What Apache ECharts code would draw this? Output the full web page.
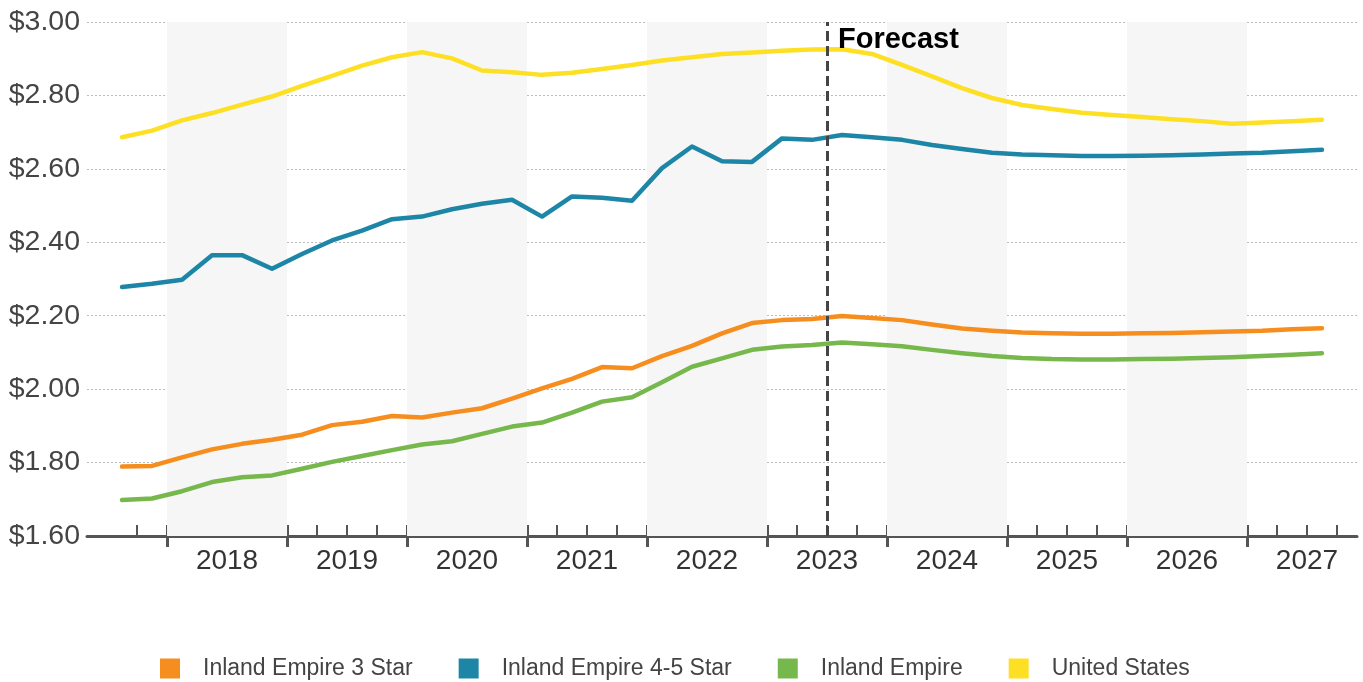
<!DOCTYPE html>
<html>
<head>
<meta charset="utf-8">
<style>
html,body{margin:0;padding:0;background:#fff;}
#chart{width:1363px;height:682px;}
</style>
<script src="https://cdn.jsdelivr.net/npm/echarts/dist/echarts.min.js"></script>
</head>
<body>
<div id="chart"></div>
<script>
const quarters = ['2017 Q3','2017 Q4',
 '2018 Q1','2018 Q2','2018 Q3','2018 Q4',
 '2019 Q1','2019 Q2','2019 Q3','2019 Q4',
 '2020 Q1','2020 Q2','2020 Q3','2020 Q4',
 '2021 Q1','2021 Q2','2021 Q3','2021 Q4',
 '2022 Q1','2022 Q2','2022 Q3','2022 Q4',
 '2023 Q1','2023 Q2','2023 Q3','2023 Q4',
 '2024 Q1','2024 Q2','2024 Q3','2024 Q4',
 '2025 Q1','2025 Q2','2025 Q3','2025 Q4',
 '2026 Q1','2026 Q2','2026 Q3','2026 Q4',
 '2027 Q1','2027 Q2','2027 Q3'];

const ie3Star = [1.789,1.791,1.814,1.836,1.851,1.862,1.876,1.902,1.911,1.927,1.923,1.936,1.948,1.974,2.002,2.028,2.060,2.057,2.090,2.118,2.152,2.180,2.188,2.191,2.199,2.194,2.188,2.176,2.165,2.159,2.154,2.152,2.151,2.151,2.152,2.153,2.155,2.157,2.159,2.163,2.166];
const ie45Star = [2.278,2.287,2.298,2.365,2.365,2.328,2.368,2.405,2.432,2.463,2.470,2.490,2.505,2.516,2.470,2.525,2.521,2.513,2.602,2.661,2.621,2.619,2.683,2.679,2.692,2.686,2.679,2.665,2.654,2.644,2.639,2.637,2.635,2.635,2.636,2.637,2.639,2.642,2.644,2.648,2.652];
const inlandEmpire = [1.698,1.702,1.722,1.747,1.760,1.765,1.783,1.802,1.818,1.834,1.849,1.858,1.878,1.898,1.909,1.936,1.966,1.978,2.019,2.061,2.084,2.107,2.116,2.120,2.127,2.122,2.117,2.107,2.098,2.090,2.085,2.082,2.081,2.081,2.082,2.083,2.085,2.087,2.090,2.094,2.098];
const unitedStates = [2.686,2.704,2.732,2.752,2.775,2.797,2.826,2.853,2.881,2.904,2.918,2.901,2.868,2.863,2.856,2.862,2.872,2.883,2.895,2.904,2.913,2.917,2.922,2.925,2.926,2.913,2.883,2.852,2.820,2.793,2.774,2.763,2.753,2.747,2.741,2.735,2.730,2.723,2.726,2.730,2.734];

const yearLabels = ['2018','2019','2020','2021','2022','2023','2024','2025','2026','2027'];
const shadedYears = [2018,2020,2022,2024,2026];
const forecastStart = '2023 Q3';
const seriesNames = ['Inland Empire 3 Star','Inland Empire 4-5 Star','Inland Empire','United States'];
const yTicks = [1.6,1.8,2.0,2.2,2.4,2.6,2.8,3.0];

function qPos(label){ const p = label.split(' Q'); return +p[0] + (+p[1]-1)/4 + 0.125; }
function qStart(label){ const p = label.split(' Q'); return +p[0] + (+p[1]-1)/4; }

const xMin = 2017.333, xMax = 2027.917;
const years = yearLabels.map(Number);
const quarterBounds = [];
for (let i = 1; i < quarters.length; i++) quarterBounds.push(qStart(quarters[i]));
quarterBounds.push(qStart(quarters[quarters.length-1]) + 0.25);
const labelPos = years.map(y => y + 0.5);

const colors = ['#F68E1F','#1D86A6','#77B84D','#FDE024'];
const dataSets = [ie3Star, ie45Star, inlandEmpire, unitedStates];

const chart = echarts.init(document.getElementById('chart'));
const axisColor = '#555';
const base = {type:'value', min:xMin, max:xMax, position:'bottom', splitLine:{show:false}};
const series = [{
  type:'line', name:'_bg', data:[], silent:true, z:1,
  markArea:{silent:true, itemStyle:{color:'#f6f6f6'},
    data: shadedYears.map(y => [{xAxis:y},{xAxis:y+1}])},
  markLine:{silent:true, symbol:['none','none'], label:{show:false},
    lineStyle:{color:'#444', width:3, type:[10,5]},
    data:[{xAxis:qStart(forecastStart)}]},
  markPoint:{silent:true, symbol:'circle', symbolSize:0,
    data:[{coord:[qStart(forecastStart), yTicks[yTicks.length-1]]}],
    label:{show:true, formatter:'Forecast', position:[11,3], align:'left', verticalAlign:'top',
      fontFamily:'Liberation Sans, Arial, sans-serif', fontWeight:'bold', fontSize:29, color:'#000'}}
}];
dataSets.forEach((d, i) => {
  series.push({
    type:'line', name:seriesNames[i], z:3,
    data: d.map((v, k) => [qPos(quarters[k]), v]),
    symbol:'none', lineStyle:{color:colors[i], width:4.5, join:'round', cap:'round'},
    itemStyle:{color:colors[i]}
  });
});

chart.setOption({
  animation:false,
  textStyle:{fontFamily:'Liberation Sans, Arial, sans-serif'},
  grid:{left:87, right:6, top:22, bottom:146, containLabel:false},
  legend:{
    data:seriesNames, left:155, top:652, icon:'rect', itemWidth:20, itemHeight:20, itemGap:46,
    textStyle:{fontSize:23, color:'#444', padding:[0,0,0,18]}
  },
  xAxis:[
    Object.assign({}, base, {
      axisLine:{show:true, onZero:false, lineStyle:{color:axisColor, width:3}},
      axisTick:{show:true, inside:true, length:11, customValues:quarterBounds, lineStyle:{color:axisColor, width:2}},
      axisLabel:{show:true, customValues:labelPos, margin:11, fontSize:28, color:'#333',
        formatter: v => yearLabels[years.indexOf(Math.floor(v))] || ''}
    }),
    Object.assign({}, base, {
      axisLine:{show:false, onZero:false},
      axisTick:{show:true, inside:false, length:11, customValues:years, lineStyle:{color:axisColor, width:3}},
      axisLabel:{show:false}
    }),
    Object.assign({}, base, {
      axisLine:{show:false, onZero:false},
      axisTick:{show:true, inside:true, length:11, customValues:years, lineStyle:{color:axisColor, width:3}},
      axisLabel:{show:false}
    })
  ],
  yAxis:{
    type:'value', min:yTicks[0], max:yTicks[yTicks.length-1], interval:0.2,
    axisLine:{show:false}, axisTick:{show:false},
    axisLabel:{margin:7, fontSize:28.5, color:'#444', formatter: v => '$' + v.toFixed(2)},
    splitLine:{show:true, lineStyle:{color:'#bbb', type:[2,2], width:1}}
  },
  series: series
});
</script>
</body>
</html>
